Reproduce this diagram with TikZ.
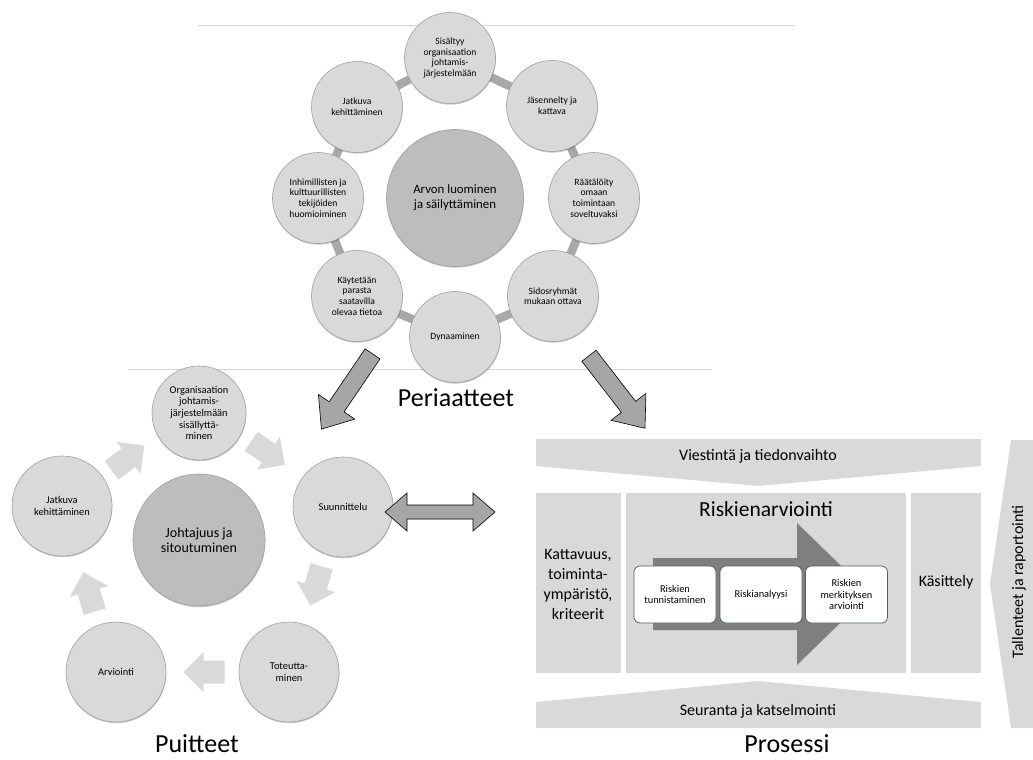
\documentclass[tikz,border=0pt]{standalone}
\usepackage{fontspec}
\setmainfont{Carlito}
\usetikzlibrary{shadows}

\definecolor{lightfill}{HTML}{D9D9D9}
\definecolor{midfill}{HTML}{BDBDBD}
\definecolor{rimgray}{HTML}{A0A0A0}
\definecolor{ringgray}{HTML}{A8A8A8}
\definecolor{bigarrowgray}{HTML}{A6A6A6}
\definecolor{flowgray}{HTML}{7F7F7F}
\definecolor{slate}{HTML}{4F5B69}
\definecolor{rulegray}{HTML}{D4D4D4}

% block arrow: style, centre, angle, half length, shaft half width, head half width, head length
\newcommand\blkarrow[7]{%
  \path[#1, shift={#2}, rotate=#3]
    (-#4,-#5) -- ({#4-#7},-#5) -- ({#4-#7},-#6) -- (#4,0)
    -- ({#4-#7},#6) -- ({#4-#7},#5) -- (-#4,#5) -- cycle;}

\begin{document}
\begin{tikzpicture}[x=1pt,y=-1pt,
  softshadow/.style={drop shadow={shadow xshift=0.4pt, shadow yshift=-1.2pt, opacity=0.22, fill=black}},
  topcirc/.style={circle, fill=lightfill, draw=rimgray, line width=0.6pt,
    minimum size=91pt, inner sep=0pt, align=center, softshadow,
    font=\fontsize{9.6}{10.6}\selectfont},
  topcore/.style={circle, fill=midfill, draw=rimgray, line width=0.6pt,
    minimum size=137pt, inner sep=0pt, align=center, softshadow,
    font=\fontsize{12.8}{15}\selectfont},
  leftcirc/.style={circle, fill=lightfill, draw=rimgray, line width=0.6pt,
    minimum size=100pt, inner sep=0pt, align=center, softshadow,
    font=\fontsize{10.4}{11.7}\selectfont},
  leftcore/.style={circle, fill=midfill, draw=rimgray, line width=0.6pt,
    minimum size=132pt, inner sep=0pt, align=center, softshadow,
    font=\fontsize{14}{15.2}\selectfont},
  ring/.style={draw=ringgray, line width=8.5pt},
  cyclearrow/.style={fill=lightfill},
  bigarrow/.style={fill=bigarrowgray, draw=black, line width=0.6pt, line join=miter},
  flowarrow/.style={fill=flowgray},
  panel/.style={fill=lightfill},
  paneltext/.style={align=center, font=\fontsize{16}{20}\selectfont},
  bartext/.style={font=\fontsize{16}{19}\selectfont},
  stepbox/.style={rectangle, rounded corners=6pt, fill=white, draw=slate,
    line width=0.7pt, minimum width=82pt, minimum height=57pt, inner sep=1pt,
    align=center, font=\fontsize{10.4}{11.8}\selectfont},
  caption/.style={font=\fontsize{26}{30}\selectfont, inner sep=0pt},
  rule/.style={draw=rulegray, line width=0.8pt}]

\useasboundingbox (0,0) rectangle (1033,760);

% thin frame rules
\coordinate (r1a) at (198,25);  \coordinate (r1b) at (795,25);
\coordinate (r2a) at (128,369); \coordinate (r2b) at (712,369);
\draw[rule] (r1a) -- (r1b);
\draw[rule] (r2a) -- (r2b);

% ---------------- principles ----------------
\coordinate (p1) at (450,58);
\coordinate (p2) at (552,106);
\coordinate (p3) at (594,198);
\coordinate (p4) at (553,296);
\coordinate (p5) at (455,337);
\coordinate (p6) at (357,296);
\coordinate (p7) at (318,198);
\coordinate (p8) at (357,107);
\draw[ring] (p1) -- (p2) -- (p3) -- (p4) -- (p5) -- (p6) -- (p7) -- (p8) -- cycle;

\node[topcore] (core) at (455,198) {Arvon luominen\\ja säilyttäminen};
\node[topcirc] (sis) at (p1) {Sisältyy\\organisaation\\johtamis-\\järjestelmään};
\node[topcirc] (jas) at (p2) {Jäsennelty ja\\kattava};
\node[topcirc] (raa) at (p3) {Räätälöity\\omaan\\toimintaan\\soveltuvaksi};
\node[topcirc] (sid) at (p4) {Sidosryhmät\\mukaan ottava};
\node[topcirc] (dyn) at (p5) {Dynaaminen};
\node[topcirc] (kay) at (p6) {Käytetään\\parasta\\saatavilla\\olevaa tietoa};
\node[topcirc] (inh) at (p7) {Inhimillisten ja\\kulttuurillisten\\tekijöiden\\huomioiminen};
\node[topcirc] (jat) at (p8) {Jatkuva\\kehittäminen};

\node[caption] (periaatteet) at (456,398) {Periaatteet};

% ---------------- framework ----------------
\node[leftcore] (lead) at (199,540) {Johtajuus ja\\sitoutuminen};
\node[leftcirc, minimum size=94pt] (org) at (199,413) {Organisaation\\johtamis-\\järjestelmään\\sisällyttä-\\minen};
\node[leftcirc] (suu) at (343,507) {Suunnittelu};
\node[leftcirc] (tot) at (289,672) {Toteutta-\\minen};
\node[leftcirc] (arv) at (116,672) {Arviointi};
\node[leftcirc] (kehi) at (62,506) {Jatkuva\\kehittäminen};

\blkarrow{cyclearrow}{(128,458)}{37}{20.5}{11.5}{20}{20}
\blkarrow{cyclearrow}{(268,453)}{-35}{20.5}{11.5}{20}{20}
\blkarrow{cyclearrow}{(316,586)}{-106}{20.5}{11.5}{20}{20}
\blkarrow{cyclearrow}{(204,672)}{180}{20.5}{11.5}{20}{20}
\blkarrow{cyclearrow}{(89,592)}{106}{20.5}{11.5}{20}{20}

\node[caption] (puitteet) at (197,744) {Puitteet};

% arrows from the principles
\blkarrow{bigarrow}{(347,391.5)}{-124.2}{45.5}{9}{22}{27}
\blkarrow{bigarrow}{(617,392)}{-52.3}{45.8}{9}{22}{27}

% two-way link between framework and process
\coordinate (lk1) at (385,512);
\coordinate (lk2) at (495,512);
\path[bigarrow] (lk1) -- ++(22,-19) -- ++(0,12) -- (473,505) -- ++(0,-12) -- (lk2)
  -- (473,531) -- ++(0,-12) -- (407,519) -- ++(0,12) -- cycle;

% ---------------- process ----------------
\path[panel] (536,439) -- (981,439) -- (981,466) -- (758,486) -- (536,466) -- cycle;
\node[bartext] (viest) at (758,456) {Viestintä ja tiedonvaihto};

\path[panel] (536,702) -- (758,681) -- (981,702) -- (981,728) -- (536,728) -- cycle;
\node[bartext] (seur) at (758,711) {Seuranta ja katselmointi};

\path[panel] (1011,440) -- (1033,440) -- (1033,728) -- (1011,728) -- (990,584) -- cycle;
\node[bartext, rotate=90] (tall) at (1019,582) {Tallenteet ja raportointi};

\fill[lightfill] (536,493) rectangle (621,673);
\node[paneltext] (katt) at (578,584) {Kattavuus,\\toiminta-\\ympäristö,\\kriteerit};

\fill[lightfill] (626,493) rectangle (906,673);
\node[font=\fontsize{21.5}{24}\selectfont] (riskarv) at (766,509) {Riskienarviointi};

\fill[lightfill] (911,493) rectangle (981,673);
\node[paneltext] (kas) at (946,582) {Käsittely};

\path[flowarrow] (653,558) -- (797,558) -- (797,523) -- (870,594) -- (797,665) -- (797,630) -- (653,630) -- cycle;

\node[stepbox] (tun) at (675,594.5) {Riskien\\tunnistaminen};
\node[stepbox] (ana) at (761,594.5) {Riskianalyysi};
\node[stepbox] (mer) at (846.5,594.5) {Riskien\\merkityksen\\arviointi};

\node[caption] (prosessi) at (787,744) {Prosessi};

\end{tikzpicture}
\end{document}
